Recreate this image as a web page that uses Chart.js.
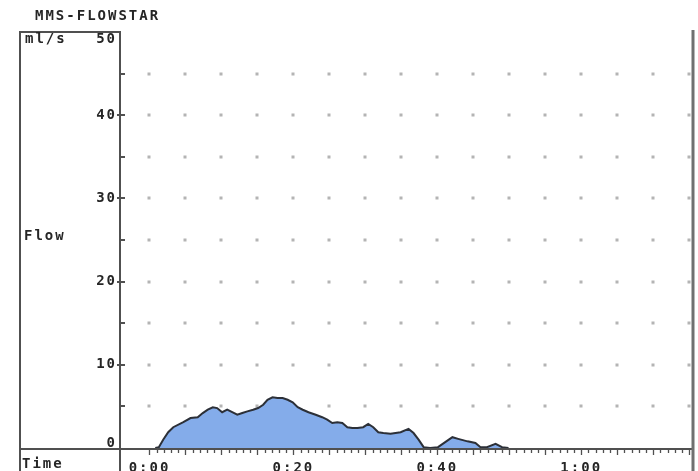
<!DOCTYPE html>
<html>
<head>
<meta charset="utf-8">
<script src="https://cdn.jsdelivr.net/npm/chart.js@4/dist/chart.umd.min.js"></script>
<style>
  html, body { margin: 0; padding: 0; background: #fff; }
  #wrap { width: 698px; height: 471px; position: relative; }
</style>
</head>
<body>
<div id="wrap"><canvas id="c"></canvas></div>
<script>
// Uroflow record: flow rate (ml/s) against time (s)
const chartTitle = 'MMS-FLOWSTAR';
const unitLabel = 'ml/s';
const yAxisTitle = 'Flow';
const xAxisTitle = 'Time';

const yTickValues = [0, 10, 20, 30, 40, 50];
const xTickValues = [0, 20, 40, 60];

const timeSec = [0.8, 1.3, 1.9, 2.6, 3.3, 4.7, 5.7, 6.7, 7.4, 8.1, 8.8, 9.4, 10.1, 10.8, 11.5, 12.2,
  12.9, 13.6, 14.4, 15.1, 15.8, 16.4, 17.1, 17.8, 18.5, 19.2, 19.9, 20.6, 21.3, 22.1, 23.1, 24.0,
  24.7, 25.4, 26.1, 26.8, 27.5, 28.2, 28.9, 29.7, 30.4, 31.1, 31.8, 32.5, 33.5, 34.9, 36.0, 36.7,
  37.4, 38.1, 39.0, 40.1, 41.1, 42.1, 42.9, 44.2, 45.3, 46.0, 46.9, 48.1, 49.0, 49.9];
const flowMlS = [0, 0.1, 1.0, 1.9, 2.5, 3.1, 3.6, 3.7, 4.2, 4.6, 4.9, 4.8, 4.3, 4.6, 4.3, 4.0,
  4.2, 4.4, 4.6, 4.8, 5.2, 5.8, 6.1, 6.0, 6.0, 5.8, 5.5, 4.9, 4.6, 4.3, 4.0, 3.7,
  3.4, 3.0, 3.1, 3.0, 2.5, 2.4, 2.4, 2.5, 2.9, 2.5, 1.9, 1.8, 1.7, 1.9, 2.3, 1.8,
  1.0, 0.1, 0, 0.1, 0.7, 1.3, 1.1, 0.8, 0.6, 0.1, 0.1, 0.5, 0.1, 0];

const FONT_FAMILY = '"DejaVu Sans Mono", monospace';
const FONT = 'bold 14px ' + FONT_FAMILY;
const INK = '#262626';
const LINE = '#505050';

function fmtTime(v) {
  const m = Math.floor(v / 60);
  const s = Math.round(v % 60);
  return m + ':' + String(s).padStart(2, '0');
}

// Printer-style frame, dotted grid, axis ticks and labels
const recorderFrame = {
  id: 'recorderFrame',
  beforeDraw(chart) {
    const ctx = chart.ctx;
    ctx.save();
    ctx.fillStyle = '#fff';
    ctx.fillRect(0, 0, chart.width, chart.height);
    ctx.restore();
    ctx.letterSpacing = '2px';
  },
  beforeDatasetsDraw(chart) {
    const ctx = chart.ctx;
    const xs = chart.scales.x, ys = chart.scales.y;
    ctx.save();
    ctx.fillStyle = '#b4b4b4';
    for (let t = 0; t <= xs.max; t += 5) {
      const px = xs.getPixelForValue(t);
      for (let v = 5; v < ys.max; v += 5) {
        const py = ys.getPixelForValue(v);
        ctx.fillRect(Math.round(px) - 1.5, Math.round(py) - 1.5, 3, 3);
      }
    }
    ctx.restore();
  },
  afterDraw(chart) {
    const ctx = chart.ctx;
    const xs = chart.scales.x, ys = chart.scales.y;
    const a = chart.chartArea;
    const H = chart.height;
    const axisY = ys.getPixelForValue(0) + 1;
    ctx.save();
    ctx.strokeStyle = LINE;
    ctx.lineWidth = 2;
    ctx.beginPath();
    // left column box
    ctx.moveTo(20, a.top); ctx.lineTo(20, H);
    ctx.moveTo(19, a.top); ctx.lineTo(a.left + 1, a.top);
    // value axis
    ctx.moveTo(a.left, a.top); ctx.lineTo(a.left, H);
    // time axis
    ctx.moveTo(19, axisY); ctx.lineTo(a.right, axisY);
    ctx.stroke();
    // right border
    ctx.strokeStyle = '#707070';
    ctx.lineWidth = 3;
    ctx.beginPath();
    ctx.moveTo(a.right + 1, a.top - 2); ctx.lineTo(a.right + 1, H);
    ctx.stroke();

    // value axis ticks every 5 ml/s
    ctx.strokeStyle = LINE;
    ctx.lineWidth = 2;
    ctx.beginPath();
    for (let v = 5; v < ys.max; v += 5) {
      const py = Math.round(ys.getPixelForValue(v));
      ctx.moveTo(a.left - (v % 10 === 0 ? 3 : 0), py);
      ctx.lineTo(a.left + 5, py);
    }
    ctx.stroke();

    // time axis ticks every second
    ctx.lineWidth = 1.3;
    ctx.beginPath();
    for (let t = 0; t <= xs.max; t += 1) {
      const px = Math.round(xs.getPixelForValue(t)) + 0.5;
      ctx.moveTo(px, axisY);
      ctx.lineTo(px, axisY + (t % 5 === 0 ? 6 : 4));
    }
    ctx.stroke();

    // text
    ctx.fillStyle = INK;
    ctx.font = FONT;
    ctx.textBaseline = 'middle';
    ctx.textAlign = 'left';
    ctx.fillText(chartTitle, 35, 16);
    ctx.fillText(unitLabel, 25, 39);
    ctx.fillText(yAxisTitle, 24, 236);
    ctx.fillText(xAxisTitle, 22, 464);

    ctx.textAlign = 'right';
    yTickValues.forEach(v => {
      let py = ys.getPixelForValue(v);
      if (v === ys.max) py += 7;
      if (v === ys.min) py -= 5;
      ctx.fillText(String(v), a.left - 3, py);
    });
    ctx.restore();
  }
};

new Chart(document.getElementById('c'), {
  type: 'line',
  data: {
    datasets: [{
      label: 'Flow',
      data: timeSec.map((t, i) => ({ x: t, y: flowMlS[i] })),
      borderColor: '#2c3038',
      borderWidth: 2,
      backgroundColor: '#84acea',
      fill: 'origin',
      tension: 0,
      pointRadius: 0
    }]
  },
  options: {
    responsive: true,
    maintainAspectRatio: false,
    animation: false,
    events: [],
    layout: { padding: { left: 0, right: 6, top: 32, bottom: 0 } },
    plugins: { legend: { display: false }, tooltip: { enabled: false }, title: { display: false } },
    scales: {
      x: {
        type: 'linear',
        min: -4.1,
        max: 75.4,
        afterBuildTicks: s => { s.ticks = xTickValues.map(v => ({ value: v })); },
        afterFit: s => { s.height = 23; },
        grid: { display: false },
        border: { display: false },
        ticks: {
          padding: 4,
          color: INK,
          autoSkip: false,
          maxRotation: 0,
          font: { family: FONT_FAMILY, size: 14, weight: 'bold' },
          callback: v => fmtTime(v)
        }
      },
      y: {
        type: 'linear',
        min: 0,
        max: 50,
        afterBuildTicks: s => { s.ticks = yTickValues.map(v => ({ value: v })); },
        afterFit: s => { s.width = 120; },
        grid: { display: false },
        border: { display: false },
        ticks: { display: false }
      }
    }
  },
  plugins: [recorderFrame]
});
</script>
</body>
</html>
